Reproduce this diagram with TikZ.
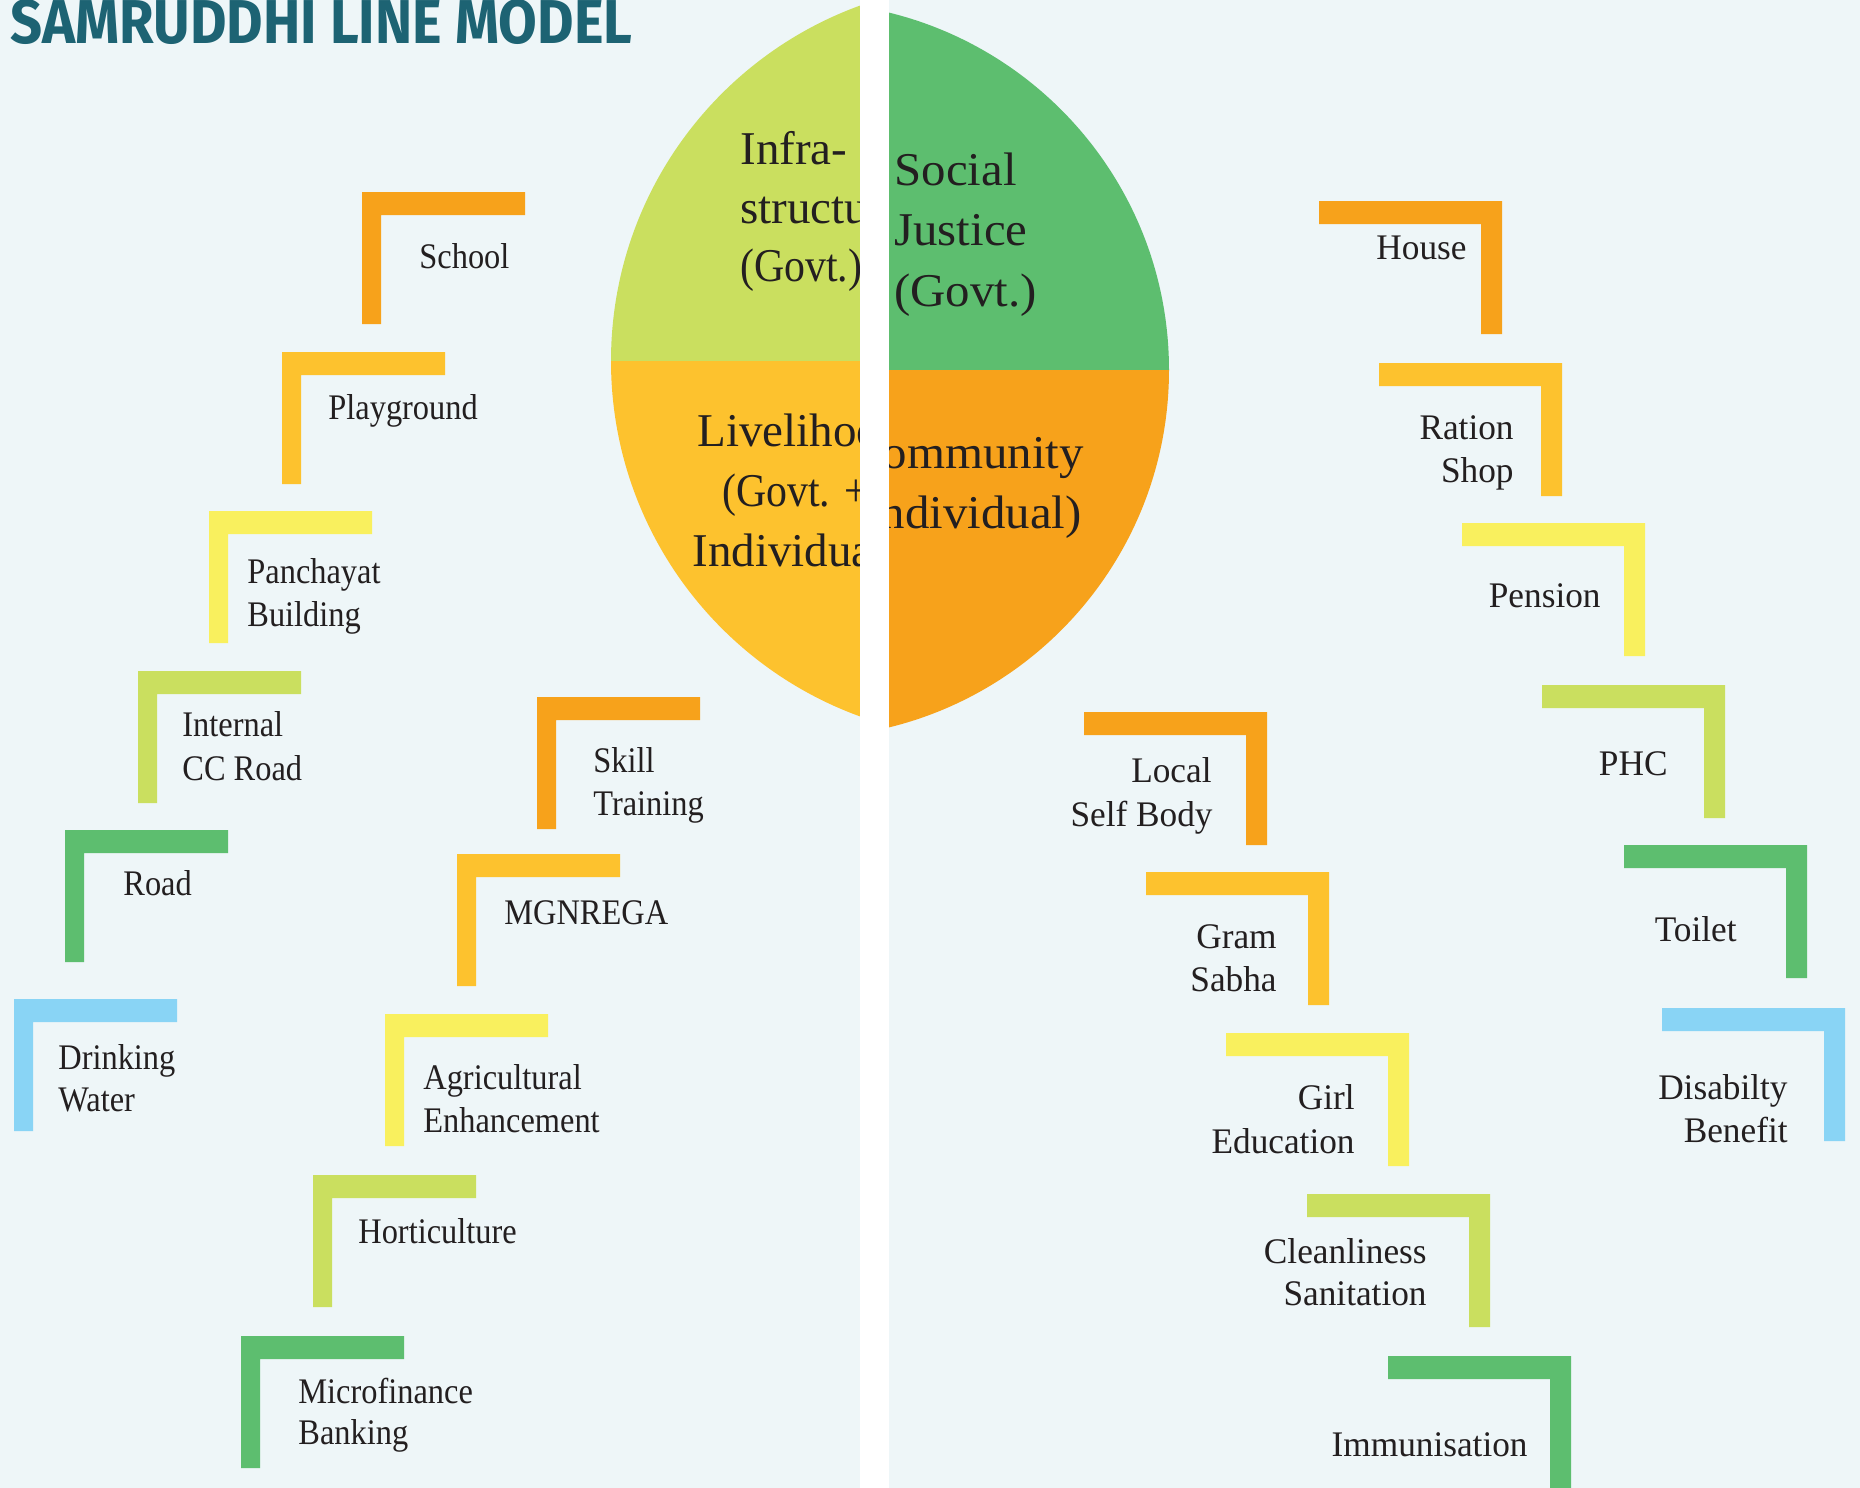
\documentclass[tikz,border=0pt]{standalone}
\usepackage{fontspec}
\usepackage{graphicx}
\setmainfont{Liberation Serif}
\newfontfamily\itemfontl{Liberation Serif}[FakeStretch=0.90]
\newfontfamily\itemfontr{Liberation Serif}[FakeStretch=0.98]
\newfontfamily\bigfontr{Liberation Serif}[FakeStretch=1.04]
\newfontfamily\bigfontc{Liberation Serif}[FakeStretch=0.89]
\newfontfamily\titlefont{Fira Sans}
\definecolor{bg}{HTML}{EEF6F8}
\definecolor{corange}{HTML}{F7A21B}
\definecolor{cyorange}{HTML}{FDC22E}
\definecolor{cyellow}{HTML}{F9F05E}
\definecolor{clgreen}{HTML}{CADF5F}
\definecolor{cgreen}{HTML}{5DBE6F}
\definecolor{cblue}{HTML}{89D4F5}
\definecolor{ctitle}{HTML}{1D6373}
\definecolor{ctxt}{HTML}{231F20}
% left-opening bracket: top-left corner given
\newcommand\LBrk[3]{\fill[#3] (#1,#2) -- ++(163,0) -- ++(0,23) -- ++(-144,0) -- ++(0,109) -- ++(-19,0) -- cycle;}
% right-opening bracket: top-right corner given
\newcommand\RBrk[3]{\fill[#3] (#1,#2) -- ++(-183,0) -- ++(0,23) -- ++(162,0) -- ++(0,110) -- ++(21,0) -- cycle;}
\begin{document}
\begin{tikzpicture}[x=0.5pt,y=-0.5pt,
  itl/.style={inner sep=0pt, font=\itemfontl\fontsize{18}{21.5}\selectfont, text=ctxt, anchor=base west},
  itr/.style={inner sep=0pt, font=\itemfontr\fontsize{18}{21.5}\selectfont, text=ctxt, anchor=base east},
  bigl/.style={inner sep=0pt, font=\fontsize{23.5}{30}\selectfont, text=ctxt, anchor=base west},
  bigc/.style={bigl, font=\bigfontc\fontsize{23.5}{30}\selectfont},
  bigr/.style={inner sep=0pt, font=\bigfontr\fontsize{23.5}{30}\selectfont, text=ctxt, anchor=base west},
  bigre/.style={bigr, anchor=base east}]
\useasboundingbox (0,0) rectangle (1860,1488);
\fill[bg] (0,0) rectangle (1860,1488);

% ---- central split circle, left half ----
\begin{scope}
  \clip (0,0) rectangle (860,1488);
  \begin{scope}
    \clip (989,361) circle [radius=378];
    \fill[clgreen] (0,0) rectangle (860,361);
    \fill[cyorange] (0,361) rectangle (860,1488);
  \end{scope}
  \node[bigl] (inf1) at (740,164) {Infra-};
  \node[bigl] (inf2) at (740,223) {structu};
  \node[bigc] (inf3) at (740,281) {(Govt.)};
  \node[bigl] (liv1) at (697,446) {Livelihoo};
  \node[bigc] (liv2) at (722,506) {(Govt. +};
  \node[bigl] (liv3) at (692,566) {Individua};
\end{scope}
% ---- central split circle, right half ----
\begin{scope}
  \clip (889,0) rectangle (1860,1488);
  \begin{scope}
    \clip (801,370) circle [radius=368];
    \fill[cgreen] (889,0) rectangle (1860,370);
    \fill[corange] (889,370) rectangle (1860,1488);
  \end{scope}
  \node[bigr] (soc1) at (894,185) {Social};
  \node[bigr] (soc2) at (894,245) {Justice};
  \node[bigr] (soc3) at (894,306) {(Govt.)};
  \node[bigre] (com1) at (1084,468) {ommunity};
  \node[bigre] (com2) at (1082,528) {ndividual)};
\end{scope}

% white gap
\fill[white] (860,0) rectangle (889,1488);

% ---- left side brackets ----
\LBrk{362}{192}{corange}
\LBrk{282}{352}{cyorange}
\LBrk{209}{511}{cyellow}
\LBrk{138}{671}{clgreen}
\LBrk{65}{830}{cgreen}
\LBrk{14}{999}{cblue}
\LBrk{537}{697}{corange}
\LBrk{457}{854}{cyorange}
\LBrk{385}{1014}{cyellow}
\LBrk{313}{1175}{clgreen}
\LBrk{241}{1336}{cgreen}

\node[itl] (school) at (419,268) {School};
\node[itl] (play) at (328,419) {Playground};
\node[itl] (pan1) at (247,583) {Panchayat};
\node[itl] (pan2) at (247,626) {Building};
\node[itl] (int1) at (182,736) {Internal};
\node[itl] (int2) at (182,780) {CC Road};
\node[itl] (road) at (123,895) {Road};
\node[itl] (dw1) at (58,1069) {Drinking};
\node[itl] (dw2) at (58,1111) {Water};
\node[itl] (sk1) at (593,772) {Skill};
\node[itl] (sk2) at (593,815) {Training};
\node[itl] (mg) at (504,924) {MGNREGA};
\node[itl] (ag1) at (423,1089) {Agricultural};
\node[itl] (ag2) at (423,1132) {Enhancement};
\node[itl] (hort) at (358,1243) {Horticulture};
\node[itl] (mf1) at (298,1403) {Microfinance};
\node[itl] (mf2) at (298,1444) {Banking};

% ---- right side brackets ----
\RBrk{1502}{201}{corange}
\RBrk{1562}{363}{cyorange}
\RBrk{1645}{523}{cyellow}
\RBrk{1725}{685}{clgreen}
\RBrk{1807}{845}{cgreen}
\RBrk{1845}{1008}{cblue}
\RBrk{1267}{712}{corange}
\RBrk{1329}{872}{cyorange}
\RBrk{1409}{1033}{cyellow}
\RBrk{1490}{1194}{clgreen}
\RBrk{1571}{1356}{cgreen}

\node[itr] (house) at (1467,259) {House};
\node[itr] (ra1) at (1514,439) {Ration};
\node[itr] (ra2) at (1514,482) {Shop};
\node[itr] (pens) at (1601,607) {Pension};
\node[itr] (phc) at (1668,775) {PHC};
\node[itr] (toil) at (1737,941) {Toilet};
\node[itr] (dis1) at (1788,1099) {Disabilty};
\node[itr] (dis2) at (1788,1142) {Benefit};
\node[itr] (loc1) at (1212,782) {Local};
\node[itr] (loc2) at (1213,826) {Self Body};
\node[itr] (gs1) at (1277,948) {Gram};
\node[itr] (gs2) at (1277,991) {Sabha};
\node[itr] (ge1) at (1355,1109) {Girl};
\node[itr] (ge2) at (1355,1153) {Education};
\node[itr] (cl1) at (1427,1263) {Cleanliness};
\node[itr] (cl2) at (1427,1305) {Sanitation};
\node[itr] (imm) at (1528,1456) {Immunisation};

% ---- title ----
\node[inner sep=0pt, anchor=base west, text=ctitle] (title) at (10,43)
  {\resizebox{311pt}{22pt}{\titlefont\bfseries SAMRUDDHI LINE MODEL}};
\end{tikzpicture}
\end{document}
